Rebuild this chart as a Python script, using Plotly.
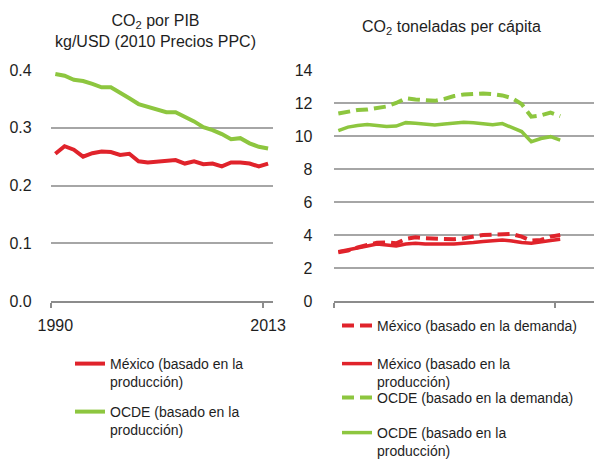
import plotly.graph_objects as go

years = list(range(1990, 2014))

# Left panel: CO2 per GDP (kg/USD, 2010 PPP prices)
mex_prod_gdp = [0.255, 0.268, 0.262, 0.250, 0.256, 0.259, 0.258, 0.253, 0.255, 0.242,
                0.240, 0.241, 0.243, 0.244, 0.238, 0.242, 0.237, 0.238, 0.233, 0.240,
                0.240, 0.238, 0.233, 0.238]
oecd_prod_gdp = [0.393, 0.390, 0.383, 0.381, 0.376, 0.370, 0.370, 0.361, 0.351, 0.341,
                 0.336, 0.332, 0.327, 0.327, 0.319, 0.311, 0.301, 0.296, 0.289, 0.280,
                 0.282, 0.273, 0.267, 0.264]

# Right panel: CO2 tonnes per capita
mex_dem_pc = [2.95, 3.05, 3.25, 3.39, 3.53, 3.55, 3.50, 3.76, 3.86, 3.80,
              3.76, 3.74, 3.74, 3.80, 3.90, 4.00, 4.02, 4.06, 4.06, 3.90,
              3.66, 3.70, 3.90, 4.00]
mex_prod_pc = [2.99, 3.09, 3.21, 3.33, 3.45, 3.39, 3.33, 3.45, 3.50, 3.45,
               3.43, 3.45, 3.45, 3.48, 3.54, 3.60, 3.64, 3.70, 3.64, 3.54,
               3.50, 3.60, 3.67, 3.74]
oecd_dem_pc = [11.36, 11.48, 11.58, 11.60, 11.67, 11.79, 12.00, 12.29, 12.21, 12.15,
               12.13, 12.25, 12.42, 12.52, 12.56, 12.58, 12.54, 12.46, 12.29, 11.94,
               11.17, 11.25, 11.42, 11.21]
oecd_prod_pc = [10.33, 10.54, 10.64, 10.69, 10.64, 10.58, 10.60, 10.81, 10.77, 10.73,
                10.67, 10.73, 10.79, 10.83, 10.81, 10.73, 10.69, 10.75, 10.52, 10.27,
                9.65, 9.85, 9.96, 9.75]

left_yticks = [0.0, 0.1, 0.2, 0.3, 0.4]
left_yticktext = ["0.0", "0.1", "0.2", "0.3", "0.4"]
right_yticks = [0, 2, 4, 6, 8, 10, 12, 14]
x_labels = ["1990", "2013"]

name_mex_prod = "México (basado en la<br>producción)"
name_oecd_prod = "OCDE (basado en la<br>producción)"
name_mex_dem = "México (basado en la demanda)"
name_oecd_dem = "OCDE (basado en la demanda)"

RED = "#e0232b"
GREEN = "#8dc63f"
FONT = "Liberation Sans, Arial, sans-serif"
TXT = "#1e1e1e"
W, H = 594, 463

fig = go.Figure()

fig.add_trace(go.Scatter(x=years, y=mex_prod_gdp, mode="lines", name=name_mex_prod,
                         line=dict(color=RED, width=4), xaxis="x", yaxis="y",
                         legend="legend", showlegend=True))
fig.add_trace(go.Scatter(x=years, y=oecd_prod_gdp, mode="lines", name=name_oecd_prod,
                         line=dict(color=GREEN, width=4), xaxis="x", yaxis="y",
                         legend="legend2", showlegend=True))

fig.add_trace(go.Scatter(x=years, y=mex_dem_pc, mode="lines", name=name_mex_dem,
                         line=dict(color=RED, width=4, dash="12px,6px"), xaxis="x2", yaxis="y2",
                         legend="legend3", showlegend=True))
fig.add_trace(go.Scatter(x=years, y=mex_prod_pc, mode="lines", name=name_mex_prod,
                         line=dict(color=RED, width=3.5), xaxis="x2", yaxis="y2",
                         legend="legend4", showlegend=True))
fig.add_trace(go.Scatter(x=years, y=oecd_dem_pc, mode="lines", name=name_oecd_dem,
                         line=dict(color=GREEN, width=4, dash="12px,6px"), xaxis="x2", yaxis="y2",
                         legend="legend5", showlegend=True))
fig.add_trace(go.Scatter(x=years, y=oecd_prod_pc, mode="lines", name=name_oecd_prod,
                         line=dict(color=GREEN, width=3.5), xaxis="x2", yaxis="y2",
                         legend="legend6", showlegend=True))

y_dom = [1 - 301 / H, 1 - 70 / H]
axis_common = dict(showline=True, linecolor="#8c8c8c", linewidth=2, showgrid=False,
                   zeroline=False, automargin=False,
                   tickfont=dict(size=16, color=TXT, family=FONT))

fig.update_layout(
    width=W, height=H, autosize=False, showlegend=True,
    margin=dict(l=0, r=0, t=0, b=0, pad=0, autoexpand=False),
    paper_bgcolor="white", plot_bgcolor="white",
    font=dict(family=FONT, color=TXT),
    xaxis=dict(axis_common, domain=[50.7 / W, 272.7 / W], range=[1989.5, 2013.5],
               tickmode="array", tickvals=[1990, 2013], ticktext=x_labels,
               ticks="outside", ticklen=9, tickcolor="rgba(0,0,0,0)",
               minor=dict(tickmode="array", tickvals=[1989.5, 2012.5], ticks="outside",
                          ticklen=5, tickwidth=1.5, tickcolor="#8c8c8c"),
               anchor="y"),
    yaxis=dict(domain=y_dom, range=[0, 0.4], tickmode="array", tickvals=left_yticks,
               ticktext=left_yticktext, showgrid=True, gridcolor="#a6a6a6", gridwidth=1.5,
               zeroline=False, showline=False, ticks="", ticklabelstandoff=18,
               automargin=False,
               tickfont=dict(size=16, color=TXT, family=FONT), anchor="x"),
    xaxis2=dict(axis_common, domain=[333.5 / W, 593.5 / W], range=[1989.5, 2016.45],
                tickmode="array", tickvals=[], showticklabels=False, ticks="",
                minor=dict(tickmode="array", tickvals=[1989.5, 2012.5], ticks="outside",
                           ticklen=5, tickwidth=1.5, tickcolor="#8c8c8c"),
                anchor="y2"),
    yaxis2=dict(domain=y_dom, range=[0, 14], tickmode="array", tickvals=right_yticks,
                showgrid=True, gridcolor="#a6a6a6", gridwidth=1.5,
                zeroline=False, showline=False, ticks="", ticklabelstandoff=20,
                automargin=False,
                tickfont=dict(size=16, color=TXT, family=FONT), anchor="x2"),
)

leg_font = dict(size=14, color=TXT, family=FONT)

def leg(xpx, ypx):
    return dict(x=xpx / W, y=1 - ypx / H, xanchor="left", yanchor="top",
                bgcolor="rgba(0,0,0,0)", font=leg_font, valign="top",
                traceorder="normal", visible=True)

fig.update_layout(
    legend=leg(70, 348),
    legend2=leg(70, 396),
    legend3=leg(337, 310),
    legend4=leg(337, 348),
    legend5=leg(337, 382),
    legend6=leg(337, 417),
)

fig.add_annotation(text="CO<sub>2</sub> por PIB<br>kg/USD (2010 Precios PPC)",
                   xref="paper", yref="paper", x=155.5 / W, y=1 - 30.5 / H,
                   xanchor="center", yanchor="middle", showarrow=False,
                   font=dict(size=16, color=TXT, family=FONT))
fig.add_annotation(text="CO<sub>2</sub> toneladas per cápita",
                   xref="paper", yref="paper", x=451 / W, y=1 - 27.5 / H,
                   xanchor="center", yanchor="middle", showarrow=False,
                   font=dict(size=16, color=TXT, family=FONT))

fig.write_html("out.html", config={"displayModeBar": False},
               post_script="document.body.style.margin='0px';")
